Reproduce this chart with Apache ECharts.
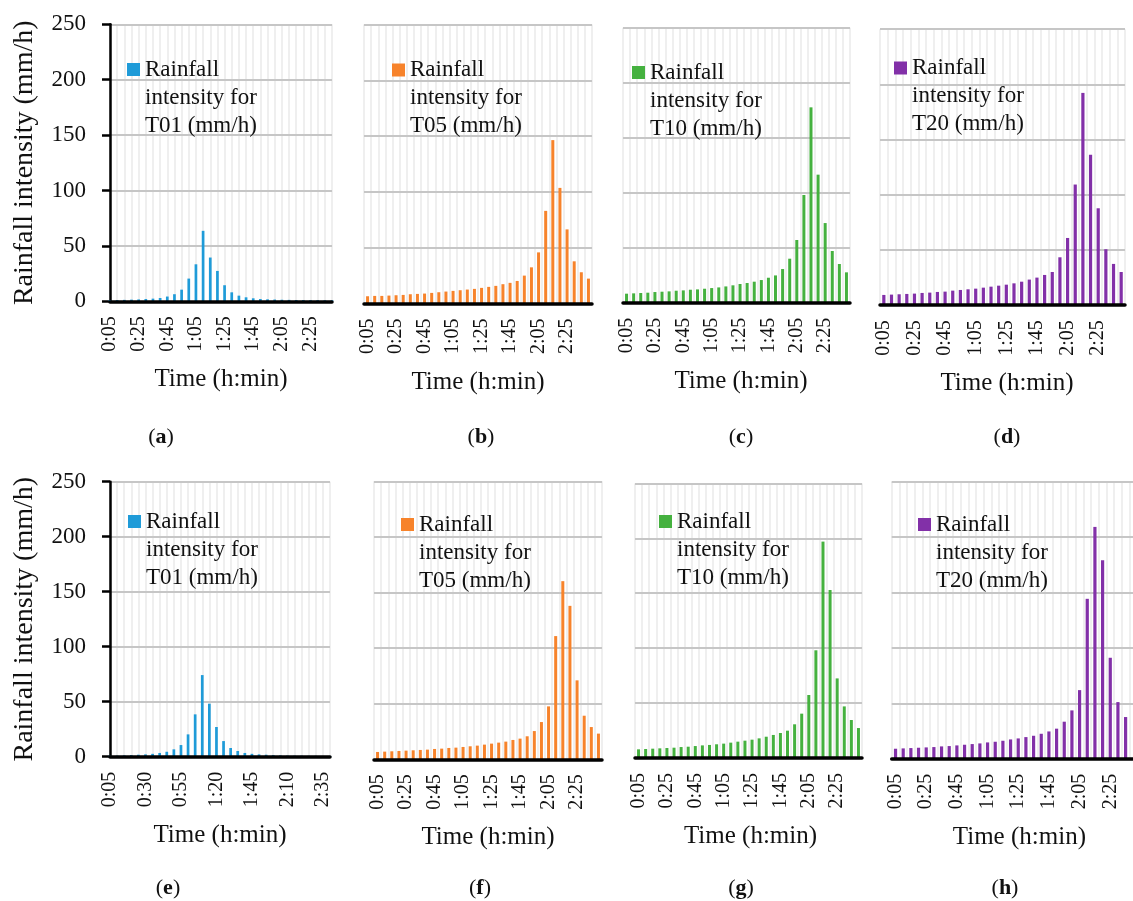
<!DOCTYPE html>
<html><head><meta charset="utf-8">
<script src="https://cdn.jsdelivr.net/npm/echarts@6/dist/echarts.min.js"></script>
<style>html,body{margin:0;padding:0;background:#fff}#c{width:1133px;height:901px}</style>
</head><body><div id="c"></div>
<script>
// Categories (time steps, 5 min)
const times = ['0:05','0:10','0:15','0:20','0:25','0:30','0:35','0:40','0:45','0:50',
  '0:55','1:00','1:05','1:10','1:15','1:20','1:25','1:30','1:35','1:40',
  '1:45','1:50','1:55','2:00','2:05','2:10','2:15','2:20','2:25','2:30','2:35','2:40'];
// y ticks
const yTicks = [0, 50, 100, 150, 200, 250];

// Rainfall intensity series (mm/h)
const t01_a = [1.0,1.1,1.3,1.5,1.7,2.1,2.4,3.0,4.3,6.4,10.5,20.5,33.4,63.6,39.5,27.4,14.5,8.1,5.1,3.6,2.7,2.1,1.8,1.6,1.4,1.3,1.2,1.1,1.0,1.0,0.9,0.9];
const t05_b = [6.5,6.8,6.8,7.1,7.4,7.7,8.3,8.6,8.9,9.5,10.1,10.7,11.3,11.9,12.5,13.1,14.0,14.9,15.8,17.3,18.5,20.2,25.0,32.4,45.8,83.0,146.4,103.6,66.4,37.8,28.0,22.3];
const t10_c = [8.2,8.5,8.8,9.1,9.7,10.0,10.3,10.9,11.2,11.8,12.1,12.7,13.3,13.9,14.8,15.8,17.0,17.9,19.1,20.6,22.7,24.8,30.6,40.0,57.0,97.9,177.6,116.4,72.4,47.0,35.2,27.6];
const t20_d = [9.3,9.6,9.9,10.2,10.5,11.1,11.4,12.0,12.3,13.2,13.8,14.4,15.0,15.9,16.8,17.7,18.6,19.8,21.3,23.2,25.0,27.4,30.1,43.4,60.9,109.3,192.3,136.2,87.8,50.7,37.4,30.1];
const t01_e = [0.9,1.0,1.2,1.5,1.8,2.1,2.6,3.4,4.5,6.7,10.6,20.3,38.5,74.2,48.2,27.0,14.2,7.9,5.2,3.4,2.6,2.1,1.8,1.5,1.2,1.0,0.9,0.9,0.8,0.8,0.7,0.7];
const t05_f = [6.6,6.9,7.2,7.5,7.8,8.1,8.4,8.7,9.3,9.6,10.2,10.5,11.1,11.7,12.3,13.2,14.1,15.0,15.9,17.4,18.6,20.7,25.4,33.5,47.6,110.8,160.2,138.0,71.0,39.2,29.0,23.1];
const t10_g = [7.8,8.1,8.4,8.7,9.0,9.3,9.9,10.2,10.8,11.4,11.8,12.4,13.0,13.9,14.8,15.7,16.6,17.8,19.3,20.9,22.7,24.8,30.6,40.3,57.3,98.0,197.0,152.9,72.4,46.9,34.5,27.2];
const t20_h = [9.0,9.3,9.6,9.9,10.2,10.5,11.1,11.4,12.0,12.6,13.2,13.8,14.7,15.3,16.2,17.4,18.3,19.5,20.7,22.5,24.6,27.1,33.4,43.6,61.9,144.3,209.2,179.1,91.1,51.1,37.6,null];

const FONT = "'Liberation Serif', 'Times New Roman', serif";
const INK = '#111111';
const COLORS = {T01:'#1f9bd8', T05:'#f7832b', T10:'#45b13f', T20:'#8230a8'};

// layout per panel: box = [left, top, width, height]
const panels = [
  {id:'a', code:'T01', values:t01_a, box:[110,24.3,222,277], onTick:true,  yLab:true,  every:4, bw:2.7, leg:[127,63],  tag:[161,437], pad:0},
  {id:'b', code:'T05', values:t05_b, box:[364,24.5,228,279], onTick:false, yLab:false, every:4, bw:3,   leg:[392,63.5],tag:[481,437], pad:0},
  {id:'c', code:'T10', values:t10_c, box:[623,27.7,227,275], onTick:false, yLab:false, every:4, bw:3,   leg:[632,66],  tag:[741,437], pad:9},
  {id:'d', code:'T20', values:t20_d, box:[880,29.2,245,276], onTick:false, yLab:false, every:4, bw:3.2, leg:[894,61.5],tag:[1007,437],pad:9},
  {id:'e', code:'T01', values:t01_e, box:[110,481.7,220,275], onTick:true, yLab:true,  every:5, bw:2.7, leg:[128,515], tag:[168,888], pad:0},
  {id:'f', code:'T05', values:t05_f, box:[374,481.3,228,278], onTick:false, yLab:false, every:4, bw:3,   leg:[401,518], tag:[480,888], pad:0},
  {id:'g', code:'T10', values:t10_g, box:[635,483.4,227,274.5], onTick:false, yLab:false, every:4, bw:3, leg:[659,515], tag:[741,888], pad:4},
  {id:'h', code:'T20', values:t20_h, box:[891.7,481.7,245.4,277], onTick:false, yLab:false, every:4, bw:3.2, leg:[918,518], tag:[1005,888], pad:10}
];

const option = {animation:false, backgroundColor:'#ffffff', grid:[], xAxis:[], yAxis:[], series:[], legend:[], graphic:[]};

panels.forEach((p, i) => {
  const sname = 'Rainfall intensity for ' + p.code + ' (mm/h)';
  option.grid.push({left:p.box[0], top:p.box[1], width:p.box[2], height:p.box[3], containLabel:false, outerBoundsMode:'none'});
  option.xAxis.push({
    type:'category', gridIndex:i, data:times, boundaryGap:!p.onTick, z:3,
    axisLine:{show:true, lineStyle:{color:'#000', width:3.5, type:'solid'}},
    axisTick:{show:false},
    axisLabel:{interval:p.every-1, rotate:90, margin:15, fontFamily:FONT, fontSize:20, color:INK},
    splitLine:{show:false},
    name:'Time (h:min)', nameLocation:'middle', nameGap:66,
    nameTextStyle:{fontFamily:FONT, fontSize:25, color:INK, padding:[0,0,0,p.pad]}
  });
  option.xAxis.push({
    type:'category', gridIndex:i, data:times, boundaryGap:!p.onTick, z:0,
    axisLine:{show:false}, axisTick:{show:false}, axisLabel:{show:false},
    splitLine:{show:true, interval:0, lineStyle:{color:'#efefef', width:2, type:'solid'}}
  });
  const y = {
    type:'value', gridIndex:i, z:1, min:yTicks[0], max:yTicks[yTicks.length-1], interval:yTicks[1]-yTicks[0],
    splitLine:{show:true, lineStyle:{color:'#c6c6c6', width:1.8, type:'solid'}},
    axisLine:{show:p.yLab, lineStyle:{color:'#000', width:2.5, type:'solid'}},
    axisTick:{show:p.yLab, length:8, lineStyle:{color:'#000', width:2.5}},
    axisLabel:{show:p.yLab, margin:24, fontFamily:FONT, fontSize:23, color:INK}
  };
  if (p.yLab) {
    y.name = 'Rainfall intensity (mm/h)';
    y.nameLocation = 'middle';
    y.nameGap = 71;
    y.nameTextStyle = {fontFamily:FONT, fontSize:28, color:INK};
  }
  option.yAxis.push(y);
  option.series.push({
    type:'bar', name:sname, xAxisIndex:2*i, yAxisIndex:i, data:p.values,
    barWidth:p.bw, itemStyle:{color:COLORS[p.code]}
  });
  option.legend.push({
    data:[sname], left:p.leg[0], top:p.leg[1]-63.5, padding:0, orient:'vertical',
    itemWidth:13, itemHeight:13, icon:'rect', selectedMode:false,
    formatter: () => '{s| }\n{s| }\n{t|Rainfall}\n{t|intensity for}\n{t|' + p.code + ' (mm/h)}',
    textStyle:{fontFamily:FONT, fontSize:23, lineHeight:28, color:INK,
      rich:{
        s:{fontFamily:FONT, fontSize:23, lineHeight:28},
        t:{fontFamily:FONT, fontSize:23, lineHeight:28, color:INK}
      }}
  });
  option.graphic.push({
    type:'text', x:p.tag[0], y:p.tag[1],
    style:{text:'({b|' + p.id + '})', fontFamily:FONT, fontSize:22, fill:INK, align:'center', verticalAlign:'middle',
      rich:{b:{fontFamily:FONT, fontSize:22, fontWeight:'bold', fill:INK}}}
  });
});

const chart = echarts.init(document.getElementById('c'), null, {renderer:'canvas'});
chart.setOption(option);
</script>
</body></html>
